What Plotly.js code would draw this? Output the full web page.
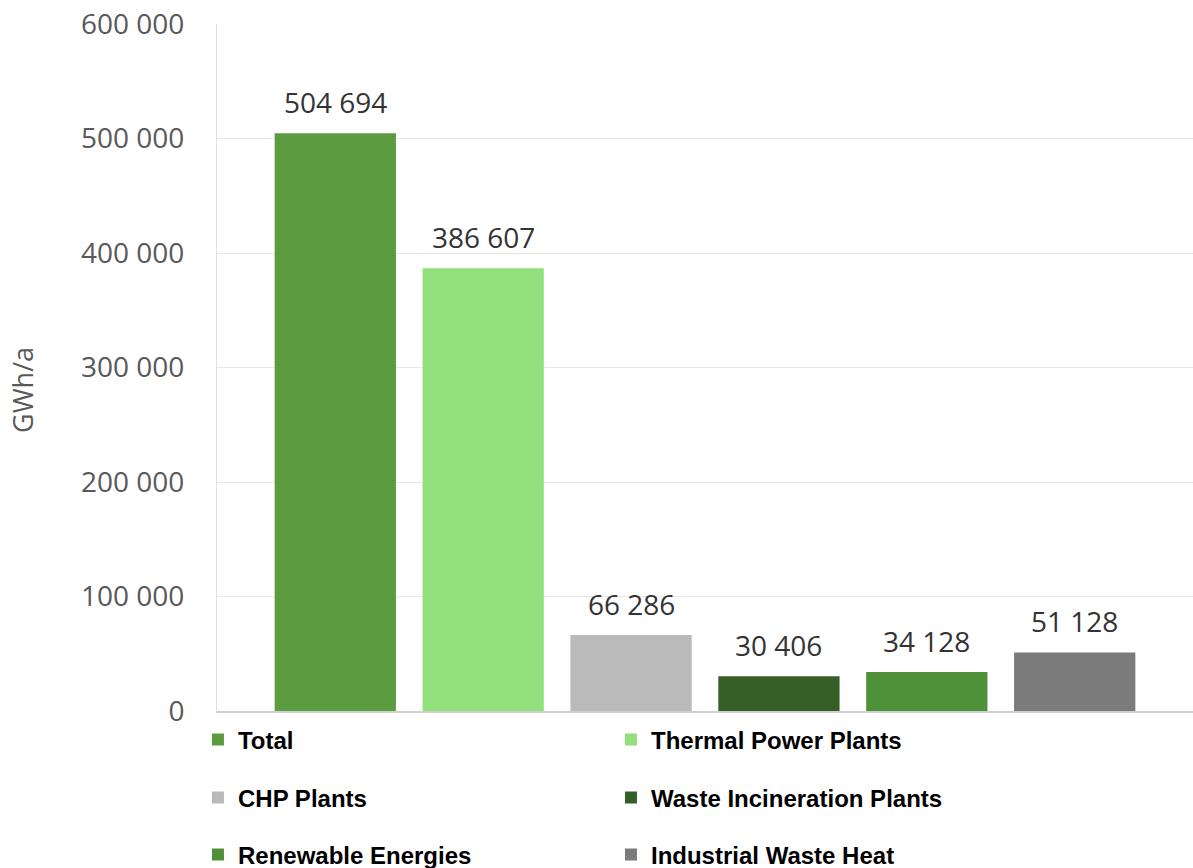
<!DOCTYPE html>
<html>
<head>
<meta charset="utf-8">
<script src="https://cdn.plot.ly/plotly-3.0.1.min.js"></script>
<style>html,body{margin:0;padding:0;background:#fff;}#chart{width:1193px;height:868px;}</style>
</head>
<body>
<div id="chart"></div>
<script>
const categories = ["Total", "Thermal Power Plants", "CHP Plants", "Waste Incineration Plants", "Renewable Energies", "Industrial Waste Heat"];
const values = [504694, 386607, 66286, 30406, 34128, 51128];
const colors = ["#5a9c3f", "#91e07b", "#bababa", "#365e27", "#4f9139", "#7b7b7b"];
const legendRows = ["legend", "legend", "legend2", "legend2", "legend3", "legend3"];
const yTitle = "GWh/a";

function fmt(v) {
  return String(v).replace(/\B(?=(\d{3})+(?!\d))/g, " ");
}

const traces = categories.map((c, i) => ({
  type: "bar",
  name: c,
  x: [c],
  y: [values[i]],
  width: 0.82,
  marker: {color: colors[i]},
  legend: legendRows[i],
  hoverinfo: "x+y"
}));

const annotations = categories.map((c, i) => ({
  x: c, y: values[i], xref: "x", yref: "y",
  text: fmt(values[i]), showarrow: false,
  yanchor: "bottom", yshift: 10,
  font: {family: "Open Sans", size: 28, color: "#333333"}
}));
annotations.push({
  xref: "paper", yref: "paper", x: -0.2, y: 0.467,
  xanchor: "center", yanchor: "middle",
  text: yTitle, textangle: -90, showarrow: false,
  font: {family: "Open Sans", size: 27, color: "#595959"}
});

const legendBase = {
  orientation: "h", x: -0.0195, xanchor: "left", yanchor: "middle",
  entrywidth: 368, entrywidthmode: "pixels",
  font: {family: "Liberation Sans", size: 24, color: "#000000", weight: "bold"},
  bgcolor: "rgba(0,0,0,0)", traceorder: "normal"
};

const layout = {
  width: 1193, height: 868,
  margin: {l: 217, r: 0, t: 24, b: 157, autoexpand: false},
  paper_bgcolor: "#ffffff", plot_bgcolor: "#ffffff",
  separators: ". ",
  barmode: "overlay",
  showlegend: true,
  xaxis: {
    type: "category", categoryarray: categories, range: [-0.8, 5.8],
    showticklabels: false, showgrid: false, zeroline: false,
    showline: true, linecolor: "#cfcfcf", linewidth: 2, fixedrange: true
  },
  yaxis: {
    range: [0, 600000], dtick: 100000, tick0: 0, tickformat: ",d",
    showgrid: true, gridcolor: "#e8e8e8", gridwidth: 1,
    zeroline: false, showline: true, linecolor: "#e0e0e0", linewidth: 1,
    ticks: "", ticklabelstandoff: 26,
    tickfont: {family: "Open Sans", size: 28, color: "#595959"}
  },
  legend: Object.assign({}, legendBase, {y: -0.0422}),
  legend2: Object.assign({}, legendBase, {y: -0.1266}),
  legend3: Object.assign({}, legendBase, {y: -0.2096}),
  annotations: annotations
};

Plotly.newPlot("chart", traces, layout, {displayModeBar: false, staticPlot: true});
</script>
</body>
</html>
